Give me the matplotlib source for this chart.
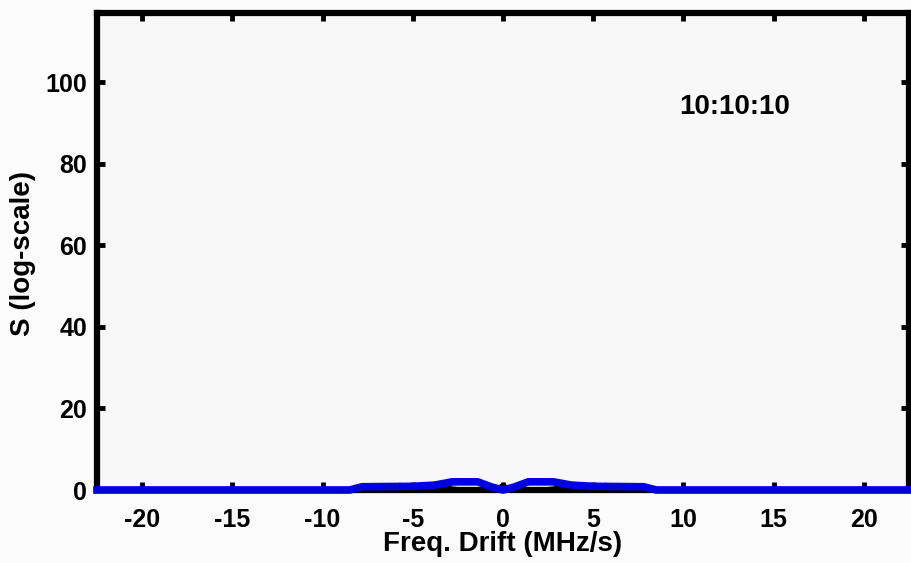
import matplotlib
matplotlib.use("Agg")
import matplotlib.pyplot as plt

# Frequency-drift spectrum (two traces)
drift_blue = [-22.5, -8.5, -7.8, -5.0, -3.8, -2.8, -1.4, -0.6, 0.0, 0.6, 1.4, 2.8, 3.8, 5.0, 7.8, 8.5, 22.5]
s_blue = [0.0, 0.0, 0.8, 0.9, 1.2, 2.0, 2.0, 0.7, 0.0, 0.7, 2.0, 2.0, 1.2, 0.9, 0.8, 0.0, 0.0]

drift_black = [-7.5, -6.0, -5.7, -5.5, -3.0, -2.2, -1.0, -0.3, 0.0, 0.3, 1.0, 2.2, 3.0, 5.5, 5.7, 6.0, 7.5]
s_black = [0.0, 0.3, 1.2, 0.4, 0.4, 0.0, 0.0, 0.2, 1.2, 0.2, 0.0, 0.0, 0.4, 0.4, 1.2, 0.3, 0.0]

x_ticks = [-20, -15, -10, -5, 0, 5, 10, 15, 20]
y_ticks = [0, 20, 40, 60, 80, 100]
time_label = "10:10:10"

plt.rcParams['font.family'] = ['Liberation Sans', 'DejaVu Sans']
plt.rcParams['font.weight'] = 'bold'
plt.rcParams['axes.unicode_minus'] = False

fig = plt.figure(figsize=(9.12, 5.63), dpi=100, facecolor='#fbfbfb')
ax = fig.add_axes([97 / 912, 73 / 563, 812 / 912, 477 / 563])
ax.set_facecolor('#f8f8f8')

ax.plot(drift_black, s_black, color='black', lw=3.5, solid_joinstyle='round', zorder=2)
ax.plot(drift_blue, s_blue, color='#0000e0', lw=5.5, solid_joinstyle='round', zorder=3, clip_on=False)

ax.set_xlim(-22.5, 22.5)
ax.set_ylim(0, 117)
ax.set_xticks(x_ticks)
ax.set_yticks(y_ticks)
ax.tick_params(axis='both', direction='in', length=6, width=3.5, top=True, right=True,
               labelsize=18)
ax.tick_params(axis='x', pad=13)
ax.tick_params(axis='y', pad=7)
for lab in ax.get_xticklabels() + ax.get_yticklabels():
    lab.set_fontweight('bold')
for sp in ax.spines.values():
    sp.set_linewidth(4.5)

ax.set_xlabel("Freq. Drift (MHz/s)", fontsize=20, fontweight='bold')
ax.xaxis.set_label_coords(0.5, -0.086)
ax.set_ylabel("S (log-scale)", fontsize=20, fontweight='bold')
ax.yaxis.set_label_coords(-0.075, 0.495)
ax.text(12.85, 94, time_label, fontsize=20, fontweight='bold', ha='center', va='center')

fig.savefig("out.png", dpi=100, facecolor=fig.get_facecolor())
